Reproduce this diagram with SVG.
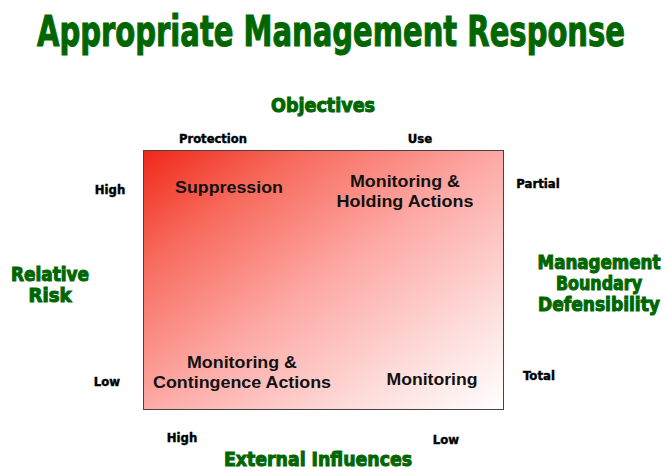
<svg xmlns="http://www.w3.org/2000/svg" width="665" height="470" viewBox="0 0 665 470">
<style>
.g{font-family:"DejaVu Sans Condensed","Liberation Sans",sans-serif;font-weight:bold;fill:#006600;text-anchor:middle;stroke:#006600;stroke-width:1}
.k{font-family:"DejaVu Sans Condensed","Liberation Sans",sans-serif;font-weight:bold;fill:#000;text-anchor:middle;font-size:13px;stroke:#000;stroke-width:0.4}
.q{font-family:"Liberation Sans",Arial,sans-serif;font-weight:bold;fill:#111;text-anchor:middle;font-size:16px}
</style>
<defs>
<linearGradient id="rg" x1="0" y1="0" x2="1" y2="1">
<stop offset="0" stop-color="#ef2818"/>
<stop offset="0.22" stop-color="#f76a5c"/>
<stop offset="0.5" stop-color="#fda9a5"/>
<stop offset="0.78" stop-color="#fddcda"/>
<stop offset="1" stop-color="#ffffff"/>
</linearGradient>
</defs>
<rect width="665" height="470" fill="#fff"/>
<text class="g" x="331" y="46" font-size="42" textLength="588" lengthAdjust="spacingAndGlyphs" stroke-width="1.6">Appropriate Management Response</text>
<g id="matrix">
<rect x="143.5" y="150.5" width="360" height="259" fill="url(#rg)" stroke="#444" stroke-width="1"/>
</g>
<g id="quadrants">
<text class="q" x="229" y="193" textLength="108" lengthAdjust="spacingAndGlyphs">Suppression</text>
<text class="q" x="405" y="187" textLength="110" lengthAdjust="spacingAndGlyphs">Monitoring &amp;</text>
<text class="q" x="405" y="207" textLength="137" lengthAdjust="spacingAndGlyphs">Holding Actions</text>
<text class="q" x="242" y="368" textLength="110" lengthAdjust="spacingAndGlyphs">Monitoring &amp;</text>
<text class="q" x="242" y="388" textLength="178" lengthAdjust="spacingAndGlyphs">Contingence Actions</text>
<text class="q" x="432" y="385" textLength="91" lengthAdjust="spacingAndGlyphs">Monitoring</text>
</g>
<g id="axes">
<text class="g" x="323" y="112" font-size="20" textLength="104" lengthAdjust="spacingAndGlyphs">Objectives</text>
<text class="k" x="213" y="143" textLength="68" lengthAdjust="spacingAndGlyphs">Protection</text>
<text class="k" x="420" y="143">Use</text>
<text class="k" x="110" y="194">High</text>
<text class="k" x="107" y="386">Low</text>
<text class="k" x="538" y="188">Partial</text>
<text class="k" x="539" y="380">Total</text>
<text class="k" x="182" y="442">High</text>
<text class="k" x="446" y="444">Low</text>
<text class="g" x="50" y="281" font-size="19" textLength="78" lengthAdjust="spacingAndGlyphs">Relative</text>
<text class="g" x="50" y="302" font-size="19" textLength="43" lengthAdjust="spacingAndGlyphs">Risk</text>
<text class="g" x="599" y="269" font-size="19" textLength="123" lengthAdjust="spacingAndGlyphs">Management</text>
<text class="g" x="599" y="290" font-size="19" textLength="86" lengthAdjust="spacingAndGlyphs">Boundary</text>
<text class="g" x="599" y="311" font-size="19" textLength="122" lengthAdjust="spacingAndGlyphs">Defensibility</text>
<text class="g" x="318" y="466" font-size="20" textLength="188" lengthAdjust="spacingAndGlyphs">External Influences</text>
</g>
</svg>
